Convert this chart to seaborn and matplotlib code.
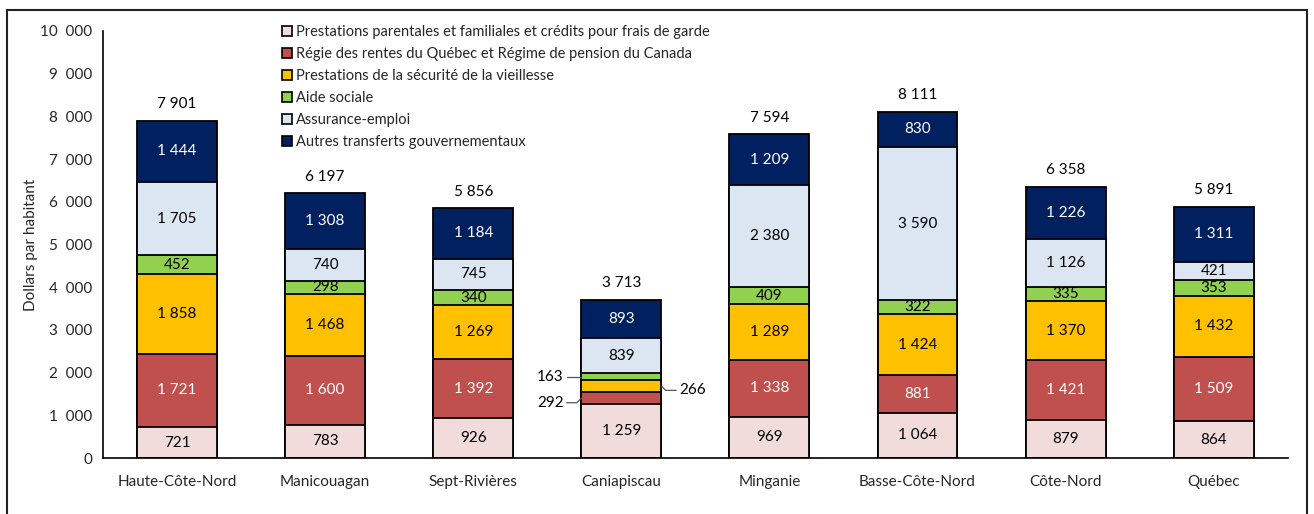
import matplotlib
matplotlib.use("Agg")
import matplotlib.pyplot as plt
import matplotlib.patches as mpatches
from matplotlib.ticker import FuncFormatter, FixedLocator
import numpy as np
import seaborn as sns

regions = ["Haute-Côte-Nord", "Manicouagan", "Sept-Rivières", "Caniapiscau",
           "Minganie", "Basse-Côte-Nord", "Côte-Nord", "Québec"]
series_names = [
    "Prestations parentales et familiales et crédits pour frais de garde",
    "Régie des rentes du Québec et Régime de pension du Canada",
    "Prestations de la sécurité de la vieillesse",
    "Aide sociale",
    "Assurance-emploi",
    "Autres transferts gouvernementaux",
]
parentales = [721, 783, 926, 1259, 969, 1064, 879, 864]
rentes = [1721, 1600, 1392, 292, 1338, 881, 1421, 1509]
vieillesse = [1858, 1468, 1269, 266, 1289, 1424, 1370, 1432]
aide_sociale = [452, 298, 340, 163, 409, 322, 335, 353]
assurance_emploi = [1705, 740, 745, 839, 2380, 3590, 1126, 421]
autres = [1444, 1308, 1184, 893, 1209, 830, 1226, 1311]
totals = [7901, 6197, 5856, 3713, 7594, 8111, 6358, 5891]

colors = ["#F2DCDB", "#C0504D", "#FFC000", "#92D050", "#DCE6F2", "#002060"]
text_colors = ["black", "white", "black", "black", "black", "white"]

sns.set_theme(style="white")
plt.rcParams["font.family"] = ["Lato", "DejaVu Sans"]

fig = plt.figure(figsize=(13.14, 5.14), dpi=100)
ax = fig.add_axes([0.0784, 0.1089, 0.9016, 0.8308])

layers = [parentales, rentes, vieillesse, aide_sociale, assurance_emploi, autres]
cums = np.cumsum(np.array(layers), axis=0)

# draw from the tallest cumulative layer down so segments stack visually
for i in range(len(layers) - 1, -1, -1):
    sns.barplot(x=regions, y=cums[i], color=colors[i], width=0.54,
                edgecolor="black", linewidth=1.3, saturation=1, ax=ax)

def fmt(v):
    return f"{v:,}".replace(",", " ")

for j in range(len(regions)):
    for i in range(len(layers)):
        val = layers[i][j]
        mid = cums[i][j] - val / 2
        if regions[j] == "Caniapiscau" and i in (1, 2, 3):
            continue
        ax.text(j, mid, fmt(val), ha="center", va="center", fontsize=11,
                color=text_colors[i])
    ax.text(j, totals[j] + 380, fmt(totals[j]), ha="center", va="center",
            fontsize=11, color="black")

# small Caniapiscau segments labelled outside
j = regions.index("Caniapiscau")
half = 0.27
for i, side, dy in [(3, -1, 0), (1, -1, -110), (2, 1, -100)]:
    val = layers[i][j]
    mid = cums[i][j] - val / 2
    x0 = j + side * half
    x1 = j + side * (half + 0.1)
    ax.plot([x0, x0 + side * 0.03, x1], [mid, mid + dy, mid + dy],
            color="#555555", lw=0.9)
    ax.text(x1 + side * 0.02, mid + dy, fmt(val), ha="right" if side < 0 else "left",
            va="center", fontsize=11, color="black")

ax.set_ylim(0, 10000)
ax.set_xlim(-0.5, len(regions) - 0.5)
ax.yaxis.set_major_locator(FixedLocator(np.arange(0, 10001, 1000)))
ax.yaxis.set_major_formatter(FuncFormatter(lambda v, p: fmt(int(v)).replace(" ", "  ")))
ax.set_ylabel("Dollars par habitant", fontsize=11, labelpad=2)
ax.set_xlabel("")
ax.set_xticks(range(len(regions)))
ax.set_xticklabels(regions, fontsize=11)
ax.xaxis.set_minor_locator(FixedLocator(np.arange(-0.5, len(regions), 1.0)))
ax.tick_params(axis="x", which="major", length=0, pad=12)
ax.tick_params(axis="x", which="minor", length=5, width=1, color="black", direction="out")
ax.tick_params(axis="y", length=4, width=1, color="black", direction="out", labelsize=11)
sns.despine(ax=ax)
for s in ["left", "bottom"]:
    ax.spines[s].set_color("black")
    ax.spines[s].set_linewidth(1.2)

handles = [mpatches.Patch(facecolor=c, edgecolor="black", linewidth=1.2) for c in colors]
ax.legend(handles, series_names, loc="upper left", bbox_to_anchor=(0.146, 1.027),
          frameon=False, fontsize=10.5, handlelength=0.7, handleheight=0.7,
          handletextpad=0.3, labelspacing=0.55, borderaxespad=0)

border = mpatches.Rectangle((7 / 1314, -0.02), 1300 / 1314, 1.0 - 10 / 514 + 0.02,
                            transform=fig.transFigure, fill=False,
                            edgecolor="#222222", linewidth=1.5)
fig.patches.append(border)

fig.savefig("out.png", dpi=100)
